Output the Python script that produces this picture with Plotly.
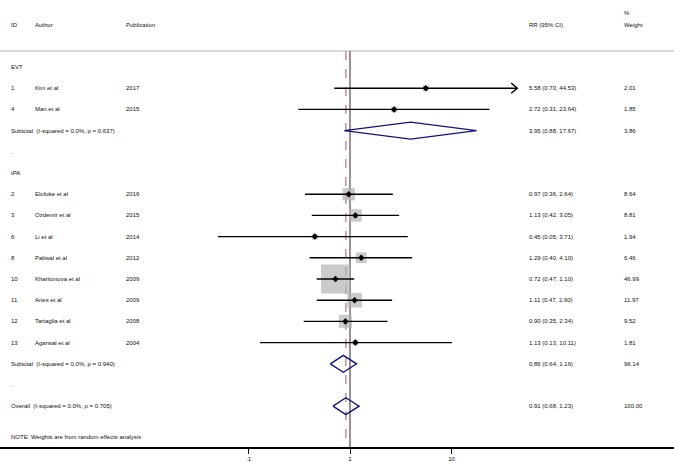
import numpy as np
import plotly.graph_objects as go

# EVT studies
evt_ids = ["1", "4"]
evt_authors = ["Kim et al", "Man et al"]
evt_years = ["2017", "2015"]
evt_rr = [5.58, 2.72]
evt_lo = [0.70, 0.31]
evt_hi = [44.53, 23.64]
evt_w = [2.01, 1.85]

# tPA studies
tpa_ids = ["2", "3", "6", "8", "10", "11", "12", "13"]
tpa_authors = ["Elofuke et al", "Ozdemir et al", "Li et al", "Paliwal et al",
               "Kharitonova et al", "Aries et al", "Tartaglia et al", "Agarwal et al"]
tpa_years = ["2016", "2015", "2014", "2012", "2009", "2009", "2008", "2004"]
tpa_rr = [0.97, 1.13, 0.45, 1.29, 0.72, 1.11, 0.90, 1.13]
tpa_lo = [0.36, 0.42, 0.05, 0.40, 0.47, 0.47, 0.35, 0.13]
tpa_hi = [2.64, 3.05, 3.71, 4.10, 1.10, 2.60, 2.34, 10.11]
tpa_w = [8.64, 8.81, 1.94, 6.46, 46.99, 11.97, 9.52, 1.81]

# pooled estimates
pool_labels = ["Subtotal  (I-squared = 0.0%, p = 0.637)",
               "Subtotal  (I-squared = 0.0%, p = 0.940)",
               "Overall  (I-squared = 0.0%, p = 0.705)"]
pool_rr = [3.95, 0.86, 0.91]
pool_lo = [0.88, 0.64, 0.68]
pool_hi = [17.67, 1.16, 1.23]
pool_w = [3.86, 96.14, 100.00]

tick_vals = [0.1, 1, 10]
tick_text = [".1", "1", "10"]

W, H = 674, 465
FONT = "Liberation Sans, Arial, sans-serif"
FS = 6
TXT = "#111111"
ROW0, ROWH = 67, 21.2          # pixel y of row 0, row height
X1, DEC = 350, 101.5            # pixel x of RR=1, pixels per decade
PLOT_BOTTOM = 447
ARROW_LIMIT = 30

# row layout
rows_evt = [1, 2]
rows_tpa = list(range(6, 14))
pool_rows = [3, 14, 16]

ids = evt_ids + tpa_ids
authors = evt_authors + tpa_authors
years = evt_years + tpa_years
rr = np.array(evt_rr + tpa_rr)
lo = np.array(evt_lo + tpa_lo)
hi = np.array(evt_hi + tpa_hi)
w = np.array(evt_w + tpa_w)
rows = rows_evt + rows_tpa

fig = go.Figure()

# weight squares
fig.add_trace(go.Scatter(
    x=rr, y=rows, mode="markers",
    marker=dict(symbol="square", size=29 * np.sqrt(w / w.max()), color="#b4b4b4",
                line=dict(width=0)),
    hoverinfo="skip", showlegend=False,
))

# CI lines
for r, l, h in zip(rows, lo, hi):
    fig.add_trace(go.Scatter(x=[l, h], y=[r, r], mode="lines",
                             line=dict(color="black", width=1.4),
                             hoverinfo="skip", showlegend=False))
    if h > ARROW_LIMIT:
        back = h * 10 ** (-0.06)
        fig.add_trace(go.Scatter(x=[back, h, back], y=[r - 0.24, r, r + 0.24],
                                 mode="lines", line=dict(color="black", width=1.4),
                                 hoverinfo="skip", showlegend=False))

# point estimates
fig.add_trace(go.Scatter(
    x=rr, y=rows, mode="markers",
    marker=dict(symbol="diamond", size=5, color="black"),
    hoverinfo="skip", showlegend=False,
))

# pooled diamonds
for r, e, l, h in zip(pool_rows, pool_rr, pool_lo, pool_hi):
    fig.add_trace(go.Scatter(x=[l, e, h, e, l], y=[r, r - 0.4, r, r + 0.4, r],
                             mode="lines", line=dict(color="#14147a", width=1.4),
                             hoverinfo="skip", showlegend=False))

y_top = (51 - ROW0) / ROWH
y_bot = (PLOT_BOTTOM - ROW0) / ROWH

# null line and overall estimate line
fig.add_shape(type="line", xref="x", yref="y", x0=1, x1=1, y0=y_top, y1=y_bot,
              line=dict(color="#7a7a7a", width=1.6), layer="below")
fig.add_shape(type="line", xref="x", yref="y", x0=pool_rr[2], x1=pool_rr[2],
              y0=y_top, y1=y_bot,
              line=dict(color="#c48a92", width=1.4, dash="dash"), layer="below")
# header rule
fig.add_shape(type="line", xref="paper", yref="y", x0=0, x1=1, y0=y_top, y1=y_top,
              line=dict(color="#d8d8d8", width=2), layer="below")


def txt(px, row, s):
    fig.add_annotation(x=px / W, y=row, xref="paper", yref="y", text=s,
                       showarrow=False, xanchor="left", yanchor="middle",
                       font=dict(family=FONT, size=FS, color=TXT))


def row_of(py):
    return (py - ROW0) / ROWH


# headers
txt(9, row_of(25), "ID")
txt(33, row_of(25), "Author")
txt(124, row_of(25), "Publication")
txt(527, row_of(25), "RR (95% CI)")
txt(622, row_of(25), "Weight")
txt(622, row_of(13), "%")

txt(9, 0, "EVT")
txt(9, 5, "tPA")
txt(9, 4, ".")
txt(9, 15, ".")

for i, r in enumerate(rows):
    txt(9, r, ids[i])
    txt(33, r, authors[i])
    txt(124, r, years[i])
    txt(527, r, f"{rr[i]:.2f} ({lo[i]:.2f}, {hi[i]:.2f})")
    txt(622, r, f"{w[i]:.2f}")

for i, r in enumerate(pool_rows):
    txt(9, r, pool_labels[i])
    txt(527, r, f"{pool_rr[i]:.2f} ({pool_lo[i]:.2f}, {pool_hi[i]:.2f})")
    txt(622, r, f"{pool_w[i]:.2f}")

txt(9, row_of(437), "NOTE: Weights are from random effects analysis")

fig.update_xaxes(
    type="log", range=[-X1 / DEC, (W - X1) / DEC],
    tickvals=tick_vals, ticktext=tick_text,
    ticks="outside", ticklen=5, tickwidth=1, tickcolor="black",
    showline=True, linecolor="black", linewidth=1.5,
    showgrid=False, zeroline=False,
    tickfont=dict(family=FONT, size=FS, color=TXT),
)
fig.update_yaxes(range=[y_bot, row_of(0)], visible=False, showgrid=False)

fig.update_layout(
    width=W, height=H,
    margin=dict(l=0, r=0, t=0, b=H - PLOT_BOTTOM),
    plot_bgcolor="white", paper_bgcolor="white",
)

# drop the browser's default body margin so the figure sits at the page corner
fig.write_html("out.html", config={"displayModeBar": False},
               post_script="document.body.style.margin='0';document.body.style.overflow='hidden';")
